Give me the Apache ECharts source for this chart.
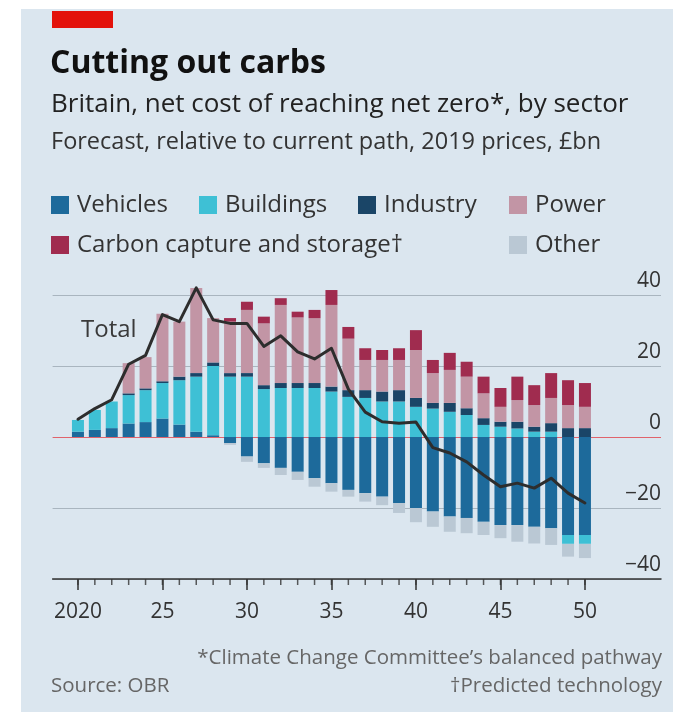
<!DOCTYPE html>
<html>
<head>
<meta charset="utf-8">
<style>
  html, body { margin: 0; padding: 0; background: #ffffff; }
  #chart { width: 677px; height: 714px; }
</style>
<script src="https://cdn.jsdelivr.net/npm/echarts@6/dist/echarts.min.js"></script>
</head>
<body>
<div id="chart"></div>
<script>
// Years shown on the axis (one bar per year)
const years = [2020, 2021, 2022, 2023, 2024, 2025, 2026, 2027, 2028, 2029,
               2030, 2031, 2032, 2033, 2034, 2035, 2036, 2037, 2038, 2039,
               2040, 2041, 2042, 2043, 2044, 2045, 2046, 2047, 2048, 2049, 2050];

// Net cost by sector, £bn (2019 prices)
const vehicles  = [1.5, 2, 2.5, 3.8, 4.2, 5.2, 3.5, 1.5, 0.5, -1.7,
                   -5.5, -7.4, -8.7, -9.8, -11.6, -13, -14.9, -15.8, -16.8, -18.6,
                   -20, -21, -22.4, -22.8, -23.9, -24.8, -24.8, -25.3, -25.7, -27.6, -27.6];
const buildings = [3.3, 5.6, 7.5, 8, 9, 10, 12.5, 15.5, 19.5, 17,
                   17, 13.5, 13.8, 13.8, 13.8, 12.8, 11.3, 11, 10, 10,
                   8.5, 8, 7.1, 6.2, 3.4, 2.9, 2.4, 1.5, 1.5, -2.5, -2.5];
const industry  = [0, 0, 0, 0.5, 0.5, 0.5, 1, 1, 1, 1,
                   1, 1.1, 1.4, 1.4, 1.4, 1.4, 1.9, 2.2, 2.8, 3.2,
                   2.5, 1.6, 2.5, 1.9, 1.9, 1.4, 1.9, 1.4, 2.4, 2.5, 2.5];
const power     = [0, 0, 0, 8.5, 8.8, 19, 15.5, 24, 12.5, 14.5,
                   17.8, 17.4, 22, 18.5, 18.3, 23, 14.5, 8.5, 8.9, 8.5,
                   13.5, 8.4, 9.3, 8.9, 7, 4.2, 6.1, 6.1, 7.1, 6.5, 6];
const ccs       = [0, 0, 0, 0, 0, 0, 0, 0, 0, 1,
                   2.3, 1.9, 1.9, 1.6, 2.3, 4.2, 3.3, 3.3, 2.8, 3.3,
                   5.6, 3.7, 4.8, 4.2, 4.7, 5.3, 6.6, 5.6, 7, 7, 6.7];
const other     = [0, 0, 0, 0, 0, 0, 0, 0, 0, -0.5,
                   -1.5, -1.3, -2, -2.3, -2.4, -2.4, -1.9, -2.4, -2.4, -2.8,
                   -4, -4.3, -4.3, -4.3, -3.7, -3.7, -4.7, -4.7, -4.7, -3.6, -4];
const total     = [5, 8, 10.5, 20.5, 23, 34.5, 32.5, 42, 33, 32,
                   32, 25.5, 28.5, 24, 22, 25, 13.5, 7, 4.3, 3.9,
                   4.2, -3, -4.5, -7, -10.7, -14, -13, -14.4, -11.6, -15.8, -18.6];

// Value-axis tick labels
const yTicks = [-40, -20, 0, 20, 40];

// The axis runs a little past the data on both sides
const padBefore = [2019];
const padAfter = [2051, 2052, 2053, 2054];
const axisYears = padBefore.concat(years, padAfter);
const pad = arr => padBefore.map(() => '-').concat(arr, padAfter.map(() => '-'));

const FONT = '"Open Sans"';
const colors = {
  vehicles: '#1d6a9b',
  buildings: '#3ec0d5',
  industry: '#1a4567',
  power: '#c295a5',
  ccs: '#a02c4f',
  other: '#bac8d4'
};

const names = ['Vehicles', 'Buildings', 'Industry', 'Power', 'Carbon capture and storage\u2020', 'Other'];
const seriesData = [vehicles, buildings, industry, power, ccs, other];
const seriesColors = [colors.vehicles, colors.buildings, colors.industry, colors.power, colors.ccs, colors.other];

const barSeries = names.map((name, i) => ({
  name: name,
  type: 'bar',
  stack: 'sectors',
  barWidth: 12,
  clip: false,
  itemStyle: { color: seriesColors[i] },
  data: pad(seriesData[i])
}));

const firstYear = years[0];
const lastYear = years[years.length - 1];
const isDataYear = i => axisYears[i] >= firstYear && axisYears[i] <= lastYear;
const isMajorYear = i => isDataYear(i) && axisYears[i] % 5 === 0;

// Small yearly tick marks hanging below the bottom axis line
const yearTicks = {
  name: 'yearTicks',
  type: 'scatter',
  silent: true,
  clip: false,
  symbol: 'rect',
  symbolSize: [1.5, 6],
  symbolOffset: [0, 3],
  itemStyle: { color: '#333' },
  z: 3,
  data: years.map(y => [String(y), yTicks[0]])
};

// Legend entries laid out in two rows
const legendPos = [
  { name: names[0], left: 51, top: 193 },
  { name: names[1], left: 199, top: 193 },
  { name: names[2], left: 358, top: 193 },
  { name: names[3], left: 509, top: 193 },
  { name: names[4], left: 51, top: 233 },
  { name: names[5], left: 509, top: 233 }
];

const option = {
  animation: false,
  backgroundColor: 'transparent',
  textStyle: { fontFamily: FONT },
  legend: legendPos.map(p => ({
    data: [p.name],
    left: p.left,
    top: p.top,
    icon: 'rect',
    itemWidth: 18,
    itemHeight: 18,
    selectedMode: false,
    padding: 0,
    textStyle: { fontFamily: FONT, fontSize: 24, color: '#333', padding: [0, 0, 0, 3] }
  })),
  grid: { left: 52.6, right: 16, top: 295, bottom: 135, containLabel: false },
  xAxis: [
    {
      type: 'category',
      data: axisYears.map(String),
      boundaryGap: true,
      axisLine: { show: true, onZero: false, lineStyle: { color: '#333', width: 1.5 } },
      axisTick: { show: true, alignWithLabel: true, interval: i => isMajorYear(i), length: 11, lineStyle: { color: '#333', width: 1.5 } },
      axisLabel: {
        interval: 0,
        margin: 23,
        fontFamily: FONT,
        fontSize: 21,
        color: '#333',
        formatter: (v, i) => {
          if (!isMajorYear(i)) return '';
          return i === 1 ? String(v) : String(v).slice(2);
        }
      },
      splitLine: { show: false }
    }
  ],
  yAxis: {
    type: 'value',
    position: 'right',
    min: yTicks[0],
    max: yTicks[yTicks.length - 1],
    interval: 20,
    axisLine: { show: false },
    axisTick: { show: false },
    axisLabel: {
      inside: true,
      margin: 0,
      verticalAlign: 'bottom',
      padding: [0, 0, 3, 0],
      fontFamily: FONT,
      fontSize: 21,
      color: '#333',
      formatter: v => (v < 0 ? '\u2212' + Math.abs(v) : String(v))
    },
    splitLine: {
      lineStyle: { color: ['#a9b5bf', '#a9b5bf', '#e0636c', '#a9b5bf', '#a9b5bf'], width: 1.2 }
    }
  },
  series: barSeries.concat([{
    name: 'Total',
    type: 'line',
    data: pad(total),
    symbol: 'none',
    clip: false,
    z: 5,
    lineStyle: { color: '#2d2d2d', width: 3, join: 'round', cap: 'round' }
  }, yearTicks]),
  graphic: [
    { type: 'rect', z: -10, shape: { x: 21, y: 9, width: 652, height: 703 }, style: { fill: '#dbe6ef' } },
    { type: 'rect', shape: { x: 52, y: 11, width: 61, height: 17 }, style: { fill: '#e3120b' } },
    { type: 'text', left: 50, top: 48, style: { text: 'Cutting out carbs', font: 'bold 32px "Open Sans"', fill: '#111' } },
    { type: 'text', left: 51, top: 92, style: { text: 'Britain, net cost of reaching net zero*, by sector', font: '26px "Open Sans"', fill: '#222' } },
    { type: 'text', left: 51, top: 130, style: { text: 'Forecast, relative to current path, 2019 prices, \u00a3bn', font: '23.5px "Open Sans"', fill: '#333' } },
    { type: 'text', left: 81, top: 318, style: { text: 'Total', font: '24px "Open Sans"', fill: '#3a3a3a' } },
    { type: 'text', right: 15, top: 648, style: { text: '*Climate Change Committee\u2019s balanced pathway', font: '20.5px "Open Sans"', fill: '#666', textAlign: 'right' } },
    { type: 'text', left: 51, top: 676, style: { text: 'Source: OBR', font: '20.5px "Open Sans"', fill: '#666' } },
    { type: 'text', right: 15, top: 676, style: { text: '\u2020Predicted technology', font: '20.5px "Open Sans"', fill: '#666', textAlign: 'right' } }
  ]
};

const chart = echarts.init(document.getElementById('chart'), null, { renderer: 'canvas' });
chart.setOption(option);
</script>
</body>
</html>
